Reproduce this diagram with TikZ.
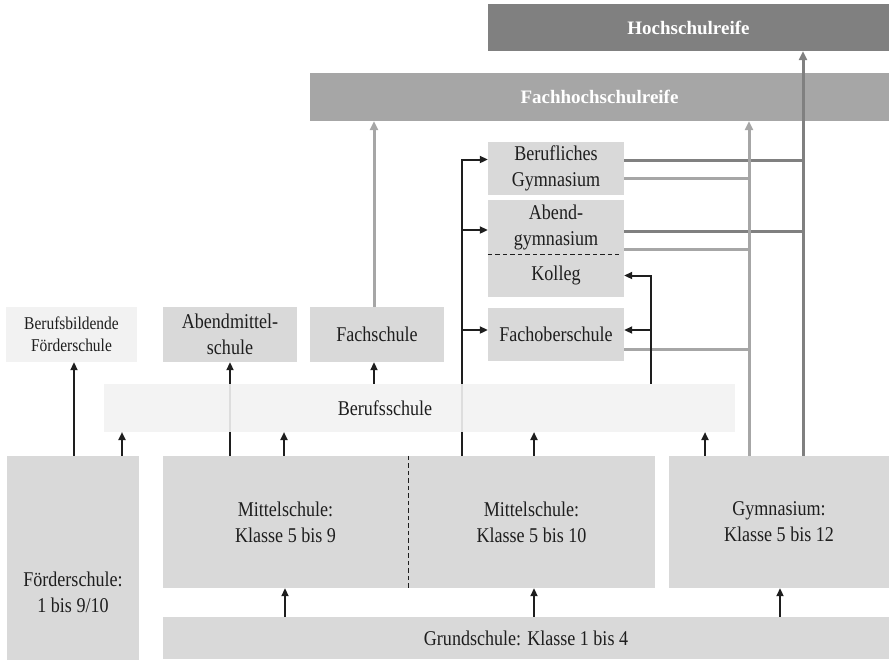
\documentclass[tikz,border=0pt]{standalone}
\usepackage{fontspec}
\setmainfont{Liberation Serif}[FakeStretch=0.86]
\newfontfamily\degreefont{Liberation Serif}
\usetikzlibrary{arrows.meta}
\definecolor{boxgray}{HTML}{D9D9D9}
\definecolor{palegray}{HTML}{F2F2F2}
\definecolor{fhrgray}{HTML}{A6A6A6}
\definecolor{hsrgray}{HTML}{808080}
\definecolor{ink}{HTML}{1E1E1E}

\begin{document}
\begin{tikzpicture}[x=1pt,y=-1pt,
  school/.style={fill=boxgray, inner sep=0pt, align=center, text=ink,
    font=\fontsize{21}{26}\selectfont},
  pale/.style={school, fill=palegray},
  degree/.style={inner sep=0pt, text=white, font=\degreefont\bfseries\fontsize{19}{23}\selectfont},
  up/.style={-{Triangle[length=8pt,width=7pt]}, line width=2pt, draw=ink},
  fhrline/.style={line width=3pt, draw=fhrgray},
  hsrline/.style={line width=3pt, draw=hsrgray},
  fhrup/.style={fhrline, -{Triangle[length=9pt,width=8pt]}},
  hsrup/.style={hsrline, -{Triangle[length=9pt,width=8pt]}},
  split/.style={draw=ink, line width=1pt, dash pattern=on 4.5pt off 3pt},
]
\path[use as bounding box] (0,0) rectangle (889,659);
\clip (0,0) rectangle (889,659);

% column positions of the connectors
\foreach \n/\x in {cA/74, cB/122, cC/230, cD/284, cE/374, cF/462, cG/534,
                   cH/651, cI/705, cJ/749, cK/803, cL/285, cM/780}
  \coordinate (\n) at (\x,0);
% lower edge of the Berufsschule band
\coordinate (bsS) at (0,432);

% degrees
\node[degree, fill=hsrgray, minimum width=401pt, minimum height=47pt] (hsr) at (688.5,27.5) {Hochschulreife};
\node[degree, fill=fhrgray, minimum width=579pt, minimum height=48pt] (fhr) at (599.5,97) {Fachhochschulreife};

% upper secondary and further schools
\node[school, minimum width=136pt, minimum height=53pt] (bg) at (556,168.5) {Berufliches\\Gymnasium};
\node[school, minimum width=136pt, minimum height=54pt] (abg) at (556,227) {Abend-\\gymnasium};
\node[school, minimum width=136pt, minimum height=43pt] (kol) at (556,275.5) {Kolleg};
\draw[split] (abg.south west) -- ([xshift=-5pt]abg.south east);
\node[school, minimum width=136pt, minimum height=53pt] (fos) at (556,334.5) {Fachoberschule};

\node[pale, minimum width=131pt, minimum height=55pt, font=\fontsize{18}{22}\selectfont] (bbf) at (71.5,334.5) {Berufsbildende\\Förderschule};
\node[school, minimum width=134pt, minimum height=55pt] (ams) at (230,334.5) {Abendmittel-\\schule};
\node[school, minimum width=134pt, minimum height=55pt] (fs) at (377,334.5) {Fachschule};

% lower secondary and primary schools
\node[school, minimum width=132pt, minimum height=272pt] (fo) at (73,592) {Förderschule:\\1 bis 9/10};
\node[school, minimum width=245pt, minimum height=132pt] (ms9) at (285.5,522) {Mittelschule:\\Klasse 5 bis 9};
\node[school, minimum width=247pt, minimum height=132pt] (ms10) at (531.5,522) {Mittelschule:\\Klasse 5 bis 10};
\draw[split] (ms9.north east) -- (ms9.south east);
\node[school, minimum width=220pt, minimum height=132pt] (gym) at (779,522) {Gymnasium:\\Klasse 5 bis 12};
\node[school, minimum width=726pt, minimum height=42pt] (gs) at (526,638) {Grundschule: Klasse 1 bis 4};

% routes to the Fachhochschulreife and Hochschulreife
\draw[fhrline] ([yshift=-9.5pt]bg.east) -- ([yshift=-9.5pt]bg.east -| cJ);
\draw[fhrline] ([yshift=-22pt]abg.east) -- ([yshift=-22pt]abg.east -| cJ);
\draw[fhrline] ([yshift=-14.5pt]fos.east) -- ([yshift=-14.5pt]fos.east -| cJ);
\draw[hsrline] ([yshift=8.5pt]bg.east) -- ([yshift=8.5pt]bg.east -| cK);
\draw[hsrline] ([yshift=-4pt]abg.east) -- ([yshift=-4pt]abg.east -| cK);
\draw[fhrup] (fs.north -| cE) -- (fhr.south -| cE);
\draw[fhrup] (gym.north -| cJ) -- (fhr.south -| cJ);
\draw[hsrup] (gym.north -| cK) -- (hsr.south -| cK);

% transitions between schools
\draw[up] (fo.north -| cA) -- (bbf.south -| cA);
\draw[up] (fo.north -| cB) -- (bsS -| cB);
\draw[up] (ms9.north -| cC) -- (ams.south -| cC);
\draw[up] (ms9.north -| cD) -- (bsS -| cD);
\draw[up] (ms10.north -| cF) |- ([yshift=9pt]bg.west);
\draw[up] (ms10.north -| cF) |- ([yshift=-3pt]abg.west);
\draw[up] (ms10.north -| cF) |- ([yshift=4.5pt]fos.west);
\draw[up] (ms10.north -| cG) -- (bsS -| cG);
\draw[up] (gym.north -| cI) -- (bsS -| cI);

% Berufsschule band, lying over the routes that cross it
\node[fill=palegray, fill opacity=0.9, inner sep=0pt, minimum width=631pt, minimum height=48pt] (bs) at (419.5,408) {};
\node[text=ink, font=\fontsize{21}{26}\selectfont, inner sep=0pt] (bslabel) at (385,408) {Berufsschule};

\draw[up] (bs.north -| cE) -- (fs.south -| cE);
\draw[up] (bs.north -| cH) |- (kol.east);
\draw[up] (bs.north -| cH) |- ([yshift=4.5pt]fos.east);

% from the Grundschule
\draw[up] (gs.north -| cL) -- (ms9.south -| cL);
\draw[up] (gs.north -| cG) -- (ms10.south -| cG);
\draw[up] (gs.north -| cM) -- (gym.south -| cM);
\end{tikzpicture}
\end{document}
